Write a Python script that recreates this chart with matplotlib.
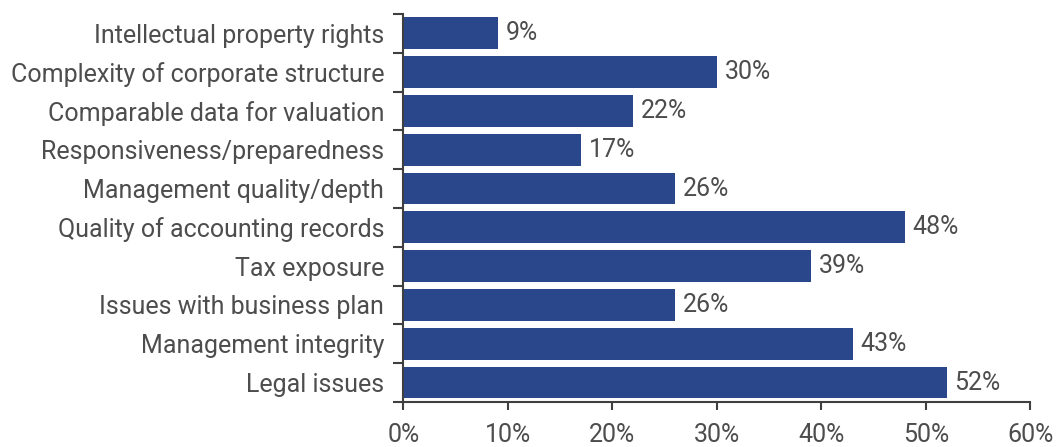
import matplotlib
matplotlib.use("Agg")
import matplotlib.pyplot as plt
from matplotlib.ticker import FixedLocator, MultipleLocator, FuncFormatter

# Survey results, listed top to bottom
categories = [
    "Intellectual property rights",
    "Complexity of corporate structure",
    "Comparable data for valuation",
    "Responsiveness/preparedness",
    "Management quality/depth",
    "Quality of accounting records",
    "Tax exposure",
    "Issues with business plan",
    "Management integrity",
    "Legal issues",
]
shares = [9, 30, 22, 17, 26, 48, 39, 26, 43, 52]

BAR = "#29478A"
INK = "#3F3F3F"
TXT = "#4D4D4D"
FS = 18
WEIGHT = "normal"

plt.rcParams["font.family"] = ["Roboto", "DejaVu Sans"]

fig = plt.figure(figsize=(10.59, 4.47), dpi=100)
ax = fig.add_axes([0.381, 0.1007, 0.592, 0.868])

pos = list(range(len(categories)))
ax.barh(pos, shares, height=0.82, color=BAR, zorder=2)

for y, v in zip(pos, shares):
    ax.text(v + 0.75, y, f"{v}%", va="center", ha="left",
            fontsize=FS, color=TXT, fontweight=WEIGHT)

ax.set_xlim(0, 60)
ax.set_ylim(len(categories) - 0.5, -0.5)

ax.xaxis.set_major_locator(MultipleLocator(10))
ax.xaxis.set_major_formatter(FuncFormatter(lambda x, _: f"{x:.0f}%"))

# category labels centred on bars, tick marks at the boundaries between them
ax.set_yticks(pos)
ax.set_yticklabels(categories)
ax.yaxis.set_minor_locator(FixedLocator([p - 0.5 for p in pos] + [pos[-1] + 0.5]))
ax.tick_params(axis="y", which="major", length=0, pad=14,
               labelsize=FS, labelcolor=TXT)
ax.tick_params(axis="y", which="minor", length=7.5, width=1.5,
               color=INK, direction="out")
ax.tick_params(axis="x", which="major", length=6, width=1.5, color=INK,
               direction="out", pad=9, labelsize=FS, labelcolor=TXT)

for side in ("top", "right"):
    ax.spines[side].set_visible(False)
for side in ("left", "bottom"):
    ax.spines[side].set_color(INK)
    ax.spines[side].set_linewidth(1.5)

for lbl in ax.get_xticklabels() + ax.get_yticklabels():
    lbl.set_fontweight(WEIGHT)

fig.savefig("out.png", dpi=100)
